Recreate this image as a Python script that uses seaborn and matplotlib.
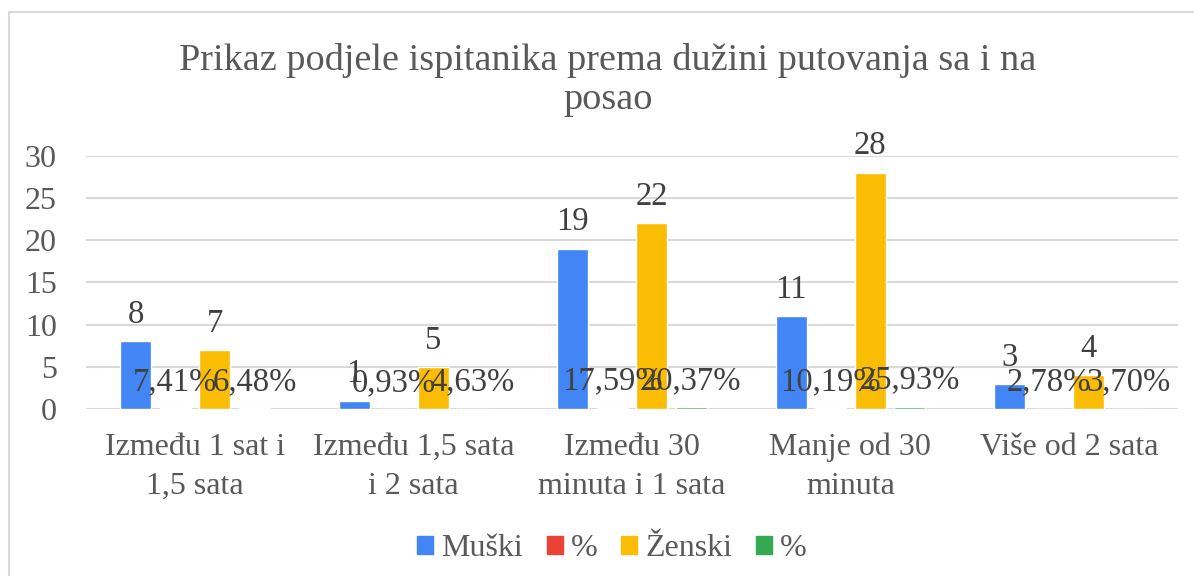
import numpy as np
import pandas as pd
import seaborn as sns
import matplotlib as mpl
import matplotlib.pyplot as plt
from matplotlib.patches import Rectangle, Patch

############################# DATA #############################
categories = ["Između 1 sat i\n1,5 sata", "Između 1,5 sata\ni 2 sata",
              "Između 30\nminuta i 1 sata", "Manje od 30\nminuta", "Više od 2 sata"]
muski      = [8, 1, 19, 11, 3]
muskiPct   = [7.41, 0.93, 17.59, 10.19, 2.78]
zenski     = [7, 5, 22, 28, 4]
zenskiPct  = [6.48, 4.63, 20.37, 25.93, 3.70]

seriesKeys   = ["Muški", "pctM", "Ženski", "pctZ"]
legendNames  = ["Muški", "%", "Ženski", "%"]
my_pal = {"Muški": "#4285F4", "pctM": "#EA4335", "Ženski": "#FBBC04", "pctZ": "#34A853"}

#percent series are stored as fractions in the sheet, so they sit near zero
rows = []
for i, c in enumerate(categories):
    rows.append((c, "Muški", muski[i], str(muski[i])))
    rows.append((c, "pctM", muskiPct[i] / 100, f"{muskiPct[i]:.2f}%".replace(".", ",")))
    rows.append((c, "Ženski", zenski[i], str(zenski[i])))
    rows.append((c, "pctZ", zenskiPct[i] / 100, f"{zenskiPct[i]:.2f}%".replace(".", ",")))
df = pd.DataFrame(rows, columns=["cat", "series", "value", "label"])

############################# STYLE #############################
sns.set_style(style='white')
mpl.rcParams['font.family'] = ['Liberation Serif', 'DejaVu Serif']
textCol = "#595959"
gridCol = "#d9d9d9"

############################# PLOT #############################
fig = plt.figure(figsize=(11.94, 5.76), dpi=100)
ax = fig.add_axes([86/1194, 1 - 409/576, (1178-86)/1194, (409-155.7)/576])

sns.barplot(data=df, x="cat", y="value", hue="series", hue_order=seriesKeys,
            palette=my_pal, width=0.724, gap=0.215, ax=ax, legend=False,
            errorbar=None, saturation=1)

for cont, key in zip(ax.containers, seriesKeys):
    labs = df.loc[df.series == key, "label"].tolist()
    ax.bar_label(cont, labels=labs, padding=8, fontsize=23.5, color="#404040")

ax.set_ylim(0, 30)
ax.set_yticks(range(0, 31, 5))
ax.set_xlim(-0.5, len(categories) - 0.5)
ax.yaxis.grid(True, color=gridCol, lw=1.5)
ax.set_axisbelow(True)
for s in ax.spines.values():
    s.set_visible(False)
ax.tick_params(axis='both', length=0, labelsize=23, labelcolor=textCol)
ax.tick_params(axis='y', pad=21)
ax.tick_params(axis='x', pad=17)
for t in ax.get_xticklabels():
    t.set_linespacing(1.45)
ax.set_xlabel("")
ax.set_ylabel("")

#Title
fig.text(608/1194, 1 - 80/576, "Prikaz podjele ispitanika prema dužini putovanja sa i na\nposao",
         ha='center', va='center', fontsize=27.5, color=textCol, linespacing=1.2)

#Legend
handles = [Patch(color=my_pal[k], label=n) for k, n in zip(seriesKeys, legendNames)]
fig.legend(handles=handles, loc='center', bbox_to_anchor=(612/1194, 1 - 549/576), ncol=4,
           frameon=False, fontsize=23, handlelength=0.5, handleheight=0.5,
           handletextpad=0.25, columnspacing=0.75, labelcolor=textCol)

#Chart border
fig.patches.append(Rectangle((9/1194, -0.1), 1.2, 1.1 - 12/576, transform=fig.transFigure,
                             fill=False, edgecolor=gridCol, lw=1.5))

fig.savefig("out.png", dpi=100)
